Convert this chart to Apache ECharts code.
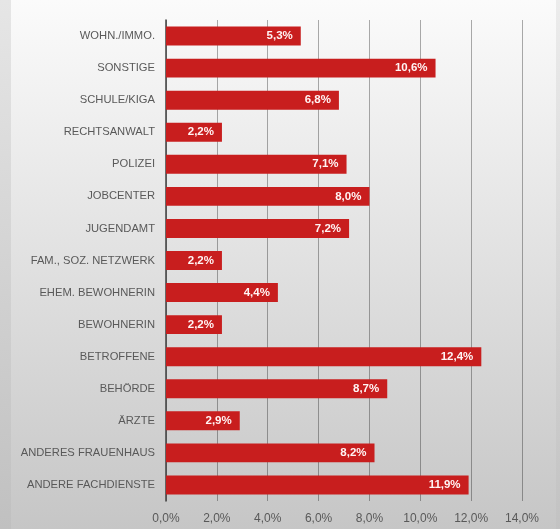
<!DOCTYPE html>
<html>
<head>
<meta charset="utf-8">
<script src="https://cdn.jsdelivr.net/npm/echarts@6/dist/echarts.min.js"></script>
<style>html,body{margin:0;padding:0;}#c{width:560px;height:529px;}</style>
</head>
<body>
<div id="c"></div>
<script>
const categories = ["WOHN./IMMO.","SONSTIGE","SCHULE/KIGA","RECHTSANWALT","POLIZEI","JOBCENTER","JUGENDAMT","FAM., SOZ. NETZWERK","EHEM. BEWOHNERIN","BEWOHNERIN","BETROFFENE","BEHÖRDE","ÄRZTE","ANDERES FRAUENHAUS","ANDERE FACHDIENSTE"];
const values = [5.3,10.6,6.8,2.2,7.1,8.0,7.2,2.2,4.4,2.2,12.4,8.7,2.9,8.2,11.9];
const xTicks = [0,2,4,6,8,10,12,14];

const FONT = "'Liberation Sans'";
const chart = echarts.init(document.getElementById('c'));
const fmt = v => v.toFixed(1).replace('.', ',') + '%';
chart.setOption({
  animation: false,
  backgroundColor: '#d8d8d8',
  graphic: [
    {type:'rect', z:-100, shape:{x:0,y:0,width:11,height:529},
     style:{fill:new echarts.graphic.LinearGradient(0,0,0,1,[{offset:0,color:'#e6e6e6'},{offset:1,color:'#c0c0c0'}])}},
    {type:'rect', z:-100, shape:{x:11,y:0,width:545,height:529},
     style:{fill:new echarts.graphic.LinearGradient(0,0,0,1,[{offset:0,color:'#fbfbfb'},{offset:1,color:'#c6c6c6'}])}},
    {type:'rect', z:-100, shape:{x:556,y:0,width:4,height:529},
     style:{fill:new echarts.graphic.LinearGradient(0,0,0,1,[{offset:0,color:'#ececec'},{offset:1,color:'#c2c2c2'}])}}
  ],
  grid: {left:166, right:38, top:20, bottom:28, containLabel:false, outerBoundsMode:'none'},
  xAxis: {
    type:'value', min:0, max:14, interval:2,
    axisLine:{show:false}, axisTick:{show:false},
    splitLine:{show:true, lineStyle:{color:'rgba(0,0,0,0.32)', width:1}},
    axisLabel:{color:'#595959', fontSize:12, fontFamily:FONT, margin:12,
      formatter: v => xTicks.includes(v) ? fmt(v) : ''}
  },
  yAxis: {
    type:'category', data:categories, inverse:true,
    axisLine:{show:true, lineStyle:{color:'#404040', width:1.5}},
    axisTick:{show:false},
    axisLabel:{color:'#595959', fontSize:11.2, fontFamily:FONT, margin:11}
  },
  series: [{
    type:'bar', data:values, barWidth:'59%',
    itemStyle:{color:'#c81e1e'},
    label:{show:true, position:'insideRight', color:'#fff4f4', fontWeight:'bold',
      fontSize:11.5, fontFamily:FONT, distance:8,
      formatter: p => fmt(p.value)}
  }]
});
</script>
</body>
</html>
